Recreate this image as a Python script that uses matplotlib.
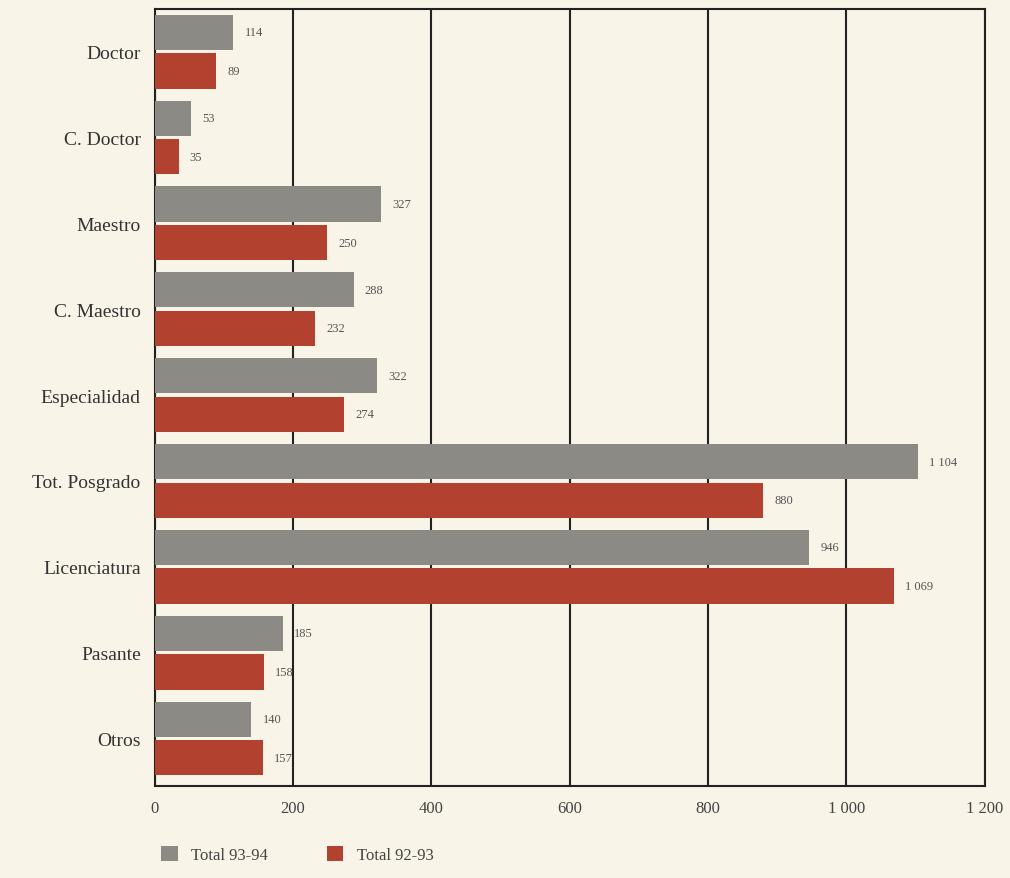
import numpy as np
import matplotlib.pyplot as plt

categories = ['Doctor', 'C. Doctor', 'Maestro', 'C. Maestro', 'Especialidad',
              'Tot. Posgrado', 'Licenciatura', 'Pasante', 'Otros']
total_93_94 = [114, 53, 327, 288, 322, 1104, 946, 185, 140]
total_92_93 = [89, 35, 250, 232, 274, 880, 1069, 158, 157]
xticks = [0, 200, 400, 600, 800, 1000, 1200]
xtick_labels = ['0', '200', '400', '600', '800', '1 000', '1 200']


def fmt(v):
    # thin space thousands separator like the original
    return '{:,}'.format(v).replace(',', ' ')


bg = '#f8f4e8'
grey = '#8b8a84'
red = '#b3412f'

plt.rcParams['font.family'] = ['Liberation Serif', 'DejaVu Serif']

fig = plt.figure(figsize=(10.1, 8.79), dpi=100, facecolor=bg)
ax = fig.add_axes([0.153, 0.105, 0.822, 0.884])
ax.set_facecolor(bg)

y = np.arange(len(categories))
h = 0.41
b1 = ax.barh(y - h / 2 - 0.02, total_93_94, height=h, color=grey, zorder=3, label='Total 93-94')
b2 = ax.barh(y + h / 2 + 0.02, total_92_93, height=h, color=red, zorder=3, label='Total 92-93')

for bars, vals in ((b1, total_93_94), (b2, total_92_93)):
    for bar, v in zip(bars, vals):
        ax.annotate(fmt(v), (v, bar.get_y() + bar.get_height() / 2),
                    xytext=(8, 0), textcoords='offset points',
                    va='center', ha='left', fontsize=9, color='#555555')

ax.set_ylim(len(categories) - 0.45, -0.5)
ax.set_xlim(0, 1200)
ax.set_yticks(y)
ax.set_yticklabels(categories, fontsize=14, color='#333333')
ax.set_xticks(xticks)
ax.set_xticklabels(xtick_labels, fontsize=12, color='#444444')
ax.tick_params(length=0, pad=10)
ax.xaxis.grid(True, color='#222222', linewidth=1.5, zorder=1)
for s in ax.spines.values():
    s.set_color('#222222')
    s.set_linewidth(1.5)

fig.legend(handles=[b1, b2], loc='lower left', bbox_to_anchor=(0.145, 0.0),
           ncol=2, frameon=False, fontsize=12, handlelength=1.0, handleheight=1.0,
           columnspacing=3.5, labelcolor='#444444')

fig.savefig('out.png', facecolor=bg)
